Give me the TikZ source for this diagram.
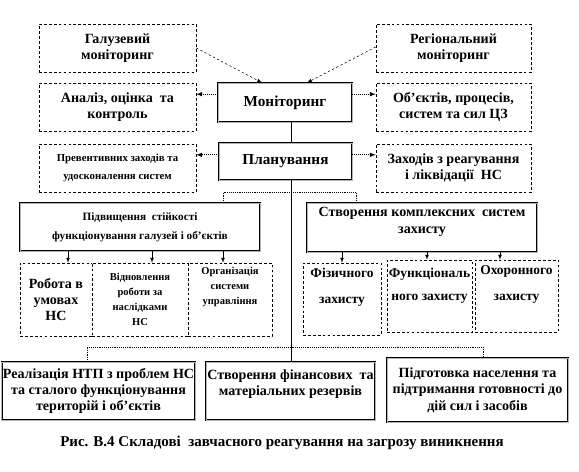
\documentclass[tikz,border=0pt]{standalone}
\usepackage{fontspec}
\setmainfont{Liberation Serif}
\usetikzlibrary{arrows, positioning}

\begin{document}
\begin{tikzpicture}[
    every node/.style={align=center, inner sep=1pt, font=\bfseries\fontsize{12}{14}\selectfont},
    small/.style={font=\bfseries\fontsize{9.2}{15}\selectfont},
    tiny/.style={font=\bfseries\fontsize{9}{13}\selectfont},
    dbox/.style={draw, dash pattern=on 2.4pt off 1.8pt, line width=0.45pt, fill=white},
    mbox/.style={draw, line width=0.5pt, double=gray!60, double distance=0.6pt, fill=white},
    arrow/.style={-latex, densely dotted, line width=0.7pt},
    feed/.style={-latex, dash pattern=on 2pt off 2pt, line width=0.45pt},
    link/.style={densely dotted, line width=0.6pt},
    down/.style={-latex, line width=0.45pt}
  ]
  \useasboundingbox (0,0) rectangle (17.37,-14.13);

  % Monitoring level
  \node[dbox, minimum width=4.71cm, minimum height=1.44cm] (galuz) at (3.525,-1.44) {Галузевий\\моніторинг};
  \node[dbox, minimum width=4.65cm, minimum height=1.44cm] (region) at (13.605,-1.44) {Регіональний\\моніторинг};
  \node[mbox, minimum width=4.02cm, minimum height=1.17cm, font=\bfseries\fontsize{13}{15}\selectfont] (monit) at (8.55,-3.075) {Моніторинг};
  \node[dbox, minimum width=4.71cm, minimum height=1.44cm] (analiz) at (3.525,-3.21) {Аналіз, оцінка~ та\\контроль};
  \node[dbox, minimum width=4.65cm, minimum height=1.44cm] (obekt) at (13.605,-3.21) {Об’єктів, процесів,\\систем та сил ЦЗ};

  % Planning level
  \node[mbox, minimum width=3.99cm, minimum height=1.11cm, font=\bfseries\fontsize{13}{15}\selectfont] (planuv) at (8.565,-4.845) {Планування};
  \node[dbox, small, minimum width=4.71cm, minimum height=1.44cm] (prevent) at (3.525,-5.04) {Превентивних заходів та\\удосконалення систем};
  \node[dbox, minimum width=4.65cm, minimum height=1.44cm] (zahodiv) at (13.605,-5.04) {Заходів з реагування\\і ліквідації~ НС};

  % Two branches
  \node[mbox, font=\bfseries\fontsize{9.6}{16}\selectfont, minimum width=7.2cm, minimum height=1.44cm] (pidv) at (4.2,-6.81) {Підвищення~ стійкості\\функціонування галузей і об’єктів};
  \node[mbox, minimum width=6.9cm, minimum height=1.47cm] (stvor) at (12.66,-6.825) {Створення комплексних~ систем\\захисту\\[-2pt]};

  \node[dbox, minimum width=2.16cm, minimum height=2.19cm] (robota) at (1.68,-8.985) {Робота в\\умовах\\НС};
  \node[dbox, tiny, minimum width=2.88cm, minimum height=2.19cm] (vidnovl) at (4.2,-8.985) {Відновлення\\роботи за\\наслідками\\НС};
  \node[dbox, tiny, minimum width=2.52cm, minimum height=2.19cm] (organiz) at (6.9,-8.985) {Організація\\системи\\управління\\[10pt]\mbox{}};

  \node[dbox, font=\bfseries\fontsize{11.5}{22}\selectfont, minimum width=2.34cm, minimum height=2.16cm] (fiz) at (10.26,-8.97) {Фізичного\\захисту\\\mbox{}};
  \node[dbox, font=\bfseries\fontsize{11.5}{20}\selectfont, minimum width=2.55cm, minimum height=2.16cm] (funk) at (12.885,-8.88) {Функціональ\\ного захисту\\\mbox{}};
  \node[dbox, font=\bfseries\fontsize{11.5}{22}\selectfont, minimum width=2.49cm, minimum height=2.16cm] (ohor) at (15.495,-8.88) {Охоронного\\захисту\\\mbox{}};

  % Bottom level
  \node[mbox, minimum width=5.79cm, minimum height=1.74cm] (realiz) at (2.955,-11.73) {Реалізація НТП з проблем НС\\та сталого функціонування\\територій і об’єктів};
  \node[mbox, minimum width=5.01cm, minimum height=1.74cm] (stvorfin) at (8.715,-11.73) {Створення фінансових~ та\\матеріальних резервів\\\mbox{}};
  \node[mbox, minimum width=5.43cm, minimum height=1.92cm] (pidgot) at (14.325,-11.7) {Підготовка населення та\\підтримання готовності до\\дій сил і засобів};

  % Caption
  \node[font=\bfseries\fontsize{12.8}{15}\selectfont] (caption) at (8.46,-13.29) {Рис. В.4 Складові~ завчасного реагування на загрозу виникнення};

  % Connectors
  \coordinate (hub) at (8.73,-10.41);
  \coordinate (split) at (8.73,-5.76);
  \draw[feed] (galuz.east) -- ([xshift=-0.69cm]monit.north);
  \draw[feed] ([yshift=0.03cm]region.west) -- ([xshift=0.66cm]monit.north);
  \draw[arrow] ([yshift=0.25cm]monit.west) -- ([yshift=0.25cm]monit.west -| analiz.east);
  \draw[arrow] ([yshift=0.25cm]monit.east) -- ([yshift=0.25cm]monit.east -| obekt.west);
  \draw[arrow] ([yshift=0.2cm]planuv.west) -- ([yshift=0.2cm]planuv.west -| prevent.east);
  \draw[arrow] ([yshift=0.2cm]planuv.east) -- ([yshift=0.2cm]planuv.east -| zahodiv.west);
  \draw (monit.south -| hub) -- (planuv.north -| hub);
  \draw (planuv.south -| hub) -- (stvorfin.north -| hub);
  \draw[link] ([xshift=2.49cm]pidv.north) |- (split) -| ([xshift=-1.98cm]stvor.north);
  \draw[link] ([xshift=-0.345cm]realiz.north) |- (hub) -| ([xshift=0.165cm]pidgot.north);
  \draw[down] ([xshift=0.36cm]robota.north |- pidv.south) -- ([xshift=0.36cm]robota.north);
  \draw[down] ([xshift=0.36cm]vidnovl.north |- pidv.south) -- ([xshift=0.36cm]vidnovl.north);
  \draw[down] ([xshift=-0.21cm]organiz.north |- pidv.south) -- ([xshift=-0.21cm]organiz.north);
  \draw[down] (fiz.north |- stvor.south) -- (fiz.north);
  \draw[down] ([xshift=-0.075cm]funk.north |- stvor.south) -- ([xshift=-0.075cm]funk.north);
  \draw[down] ([xshift=-0.495cm]ohor.north |- stvor.south) -- ([xshift=-0.495cm]ohor.north);
\end{tikzpicture}
\end{document}
